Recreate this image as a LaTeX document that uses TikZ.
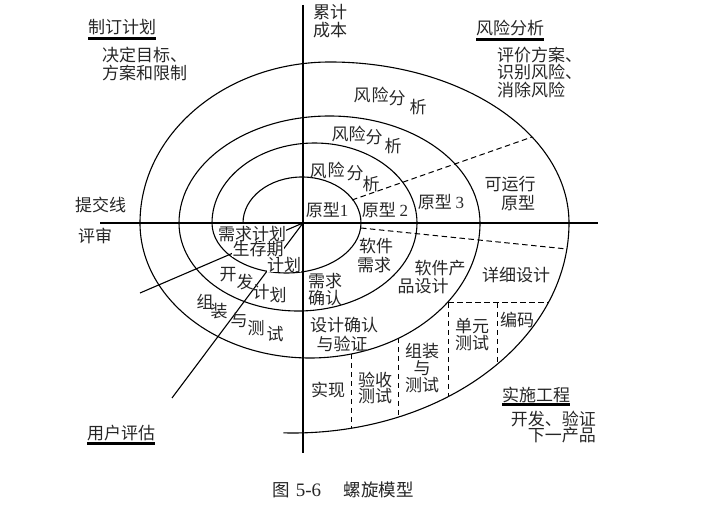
\documentclass[tikz,border=0pt]{standalone}
\usepackage{fontspec}
\setmainfont{Noto Sans CJK SC}
\newfontfamily\serifd{Liberation Serif}
\begin{document}
\begin{tikzpicture}[x=1pt,y=-1pt,
  spiralline/.style={line width=1.1pt},
  axisline/.style={line width=1.4pt},
  dline/.style={line width=1pt,dash pattern=on 5.5pt off 3.5pt},
  lbl/.style={font=\fontsize{17}{17}\selectfont,inner sep=0pt,text=black!85},
  hbar/.style={line width=3pt},
  wlbl/.style={lbl,fill=white,inner sep=0.3pt,text height=13.2pt,text depth=0.3pt}
]
\useasboundingbox (0,0) rectangle (707,510);

% key points
\coordinate (O) at (303,223);
\coordinate (S0) at (243,223);
\coordinate (vtop) at (303,5);
\coordinate (vbot) at (303,453);
\coordinate (hl) at (100,223);
\coordinate (hr) at (598,223);
\coordinate (la) at (140,293);
\coordinate (lb) at (172,398);

% spiral
\draw[spiralline] (S0)
  arc[start angle=180,end angle=360,x radius=59,y radius=46]
  arc[start angle=0,end angle=180,x radius=74.5,y radius=50]
  arc[start angle=180,end angle=360,x radius=102.5,y radius=80]
  arc[start angle=0,end angle=180,x radius=119,y radius=88]
  arc[start angle=180,end angle=360,x radius=150.5,y radius=107]
  arc[start angle=0,end angle=180,x radius=170,y radius=135]
  arc[start angle=180,end angle=270,x radius=190,y radius=161]
  arc[start angle=270,end angle=360,x radius=239,y radius=161]
  arc[start angle=0,end angle=92,x radius=276,y radius=210];

% axes
\draw[axisline] (vtop) -- (vbot);
\draw[axisline] (hl) -- (hr);

% radial lines
\draw[spiralline] (O) -- (la);
\draw[spiralline] (O) -- (lb);

% dashed lines
\coordinate (d1a) at (352,200);
\coordinate (d1b) at (532,137);
\coordinate (d2a) at (361,228);
\coordinate (d2b) at (567,249);
\coordinate (v1a) at (351,354); \coordinate (v1b) at (351,428);
\coordinate (v2a) at (398,338); \coordinate (v2b) at (398,417);
\coordinate (v3a) at (448,303); \coordinate (v3b) at (448,397);
\coordinate (v4a) at (497,303); \coordinate (v4b) at (497,364);
\coordinate (hda) at (548,303);
\draw[dline] (d1a) -- (d1b);
\draw[dline] (d2a) -- (d2b);
\draw[dline] (v1a) -- (v1b);
\draw[dline] (v2a) -- (v2b);
\draw[dline] (v3a) -- (v3b);
\draw[dline] (v4a) -- (v4b);
\draw[dline] (v3a) -- (hda);

% headers
\node[lbl,anchor=west] (h1) at (88,27) {制订计划};
\draw[hbar] ([yshift=-11.5pt]h1.west) -- ([yshift=-11.5pt]h1.east);
\node[lbl,anchor=west] (t1a) at (102,55) {决定目标、};
\node[lbl,anchor=west] (t1b) at (102,73.5) {方案和限制};

\node[lbl,anchor=west] (h2) at (476,28) {风险分析};
\draw[hbar] ([yshift=-11.5pt]h2.west) -- ([yshift=-11.5pt]h2.east);
\node[lbl,anchor=west] (t2a) at (497,55.5) {评价方案、};
\node[lbl,anchor=west] (t2b) at (497,72.5) {识别风险、};
\node[lbl,anchor=west] (t2c) at (497,89.5) {消除风险};

\node[lbl,anchor=west] (h3) at (502,394.5) {实施工程};
\draw[hbar] ([yshift=-10pt]h3.west) -- ([yshift=-10pt]h3.east);
\node[lbl,anchor=east] (t3a) at (596,419.5) {开发、验证};
\node[lbl,anchor=east] (t3b) at (596,435.5) {下一产品};

\node[lbl,anchor=west] (h4) at (87,433) {用户评估};
\draw[hbar] ([yshift=-10.5pt]h4.west) -- ([yshift=-10.5pt]h4.east);

\node[lbl,anchor=west] (c1) at (313,12.5) {累计};
\node[lbl,anchor=west] (c2) at (313,30.5) {成本};

\node[lbl,anchor=west] (s1) at (75,205) {提交线};
\node[lbl,anchor=west] (s2) at (78,236) {评审};

% risk analysis labels (staggered)
\node[lbl] (r4a) at (362,95) {风};
\node[lbl] (r4b) at (380,95) {险};
\node[lbl] (r4c) at (397,98) {分};
\node[lbl] (r4d) at (418,107) {析};

\node[lbl] (r3a) at (340,134) {风};
\node[lbl] (r3b) at (357,134) {险};
\node[lbl] (r3c) at (374,137) {分};
\node[lbl] (r3d) at (393,146) {析};

\node[lbl] (r2a) at (318,171) {风};
\node[lbl] (r2b) at (336,170) {险};
\node[lbl] (r2c) at (355,173) {分};
\node[lbl] (r2d) at (371,184) {析};

% prototypes
\node[lbl] (p1) at (327,210) {原型{\serifd 1}};
\node[lbl] (p2) at (385,210) {原型 {\serifd 2}};
\node[lbl] (p3) at (441,202) {原型 {\serifd 3}};
\node[lbl] (p4a) at (510,184) {可运行};
\node[lbl] (p4b) at (518,203) {原型};

% lower right
\node[lbl] (q1a) at (376,246) {软件};
\node[lbl] (q1b) at (374,265) {需求};
\node[lbl] (q2a) at (440,268) {软件产};
\node[lbl] (q2b) at (423,286) {品设计};
\node[lbl] (q3) at (516,275) {详细设计};
\node[lbl] (q4a) at (325,281) {需求};
\node[lbl] (q4b) at (325,298) {确认};
\node[lbl] (q5a) at (344,325) {设计确认};
\node[lbl] (q5b) at (342,344) {与验证};
\node[lbl] (q6) at (328,390) {实现};
\node[lbl] (q7a) at (375,380) {验收};
\node[lbl] (q7b) at (375,396) {测试};
\node[lbl] (q8a) at (422,351) {组装};
\node[lbl] (q8b) at (422,368) {与};
\node[lbl] (q8c) at (422,385) {测试};
\node[lbl] (q9a) at (472,326) {单元};
\node[lbl] (q9b) at (472,343) {测试};
\node[lbl] (q10) at (517,320) {编码};

% lower left
\node[wlbl] (m1) at (252,234) {需求计划};
\node[wlbl] (m2) at (258,249.5) {生存期};
\node[wlbl] (m3) at (284,265) {计划};
\node[lbl] (k1) at (228,275) {开};
\node[lbl] (k2) at (245,282) {发};
\node[lbl] (k3) at (261,292) {计};
\node[lbl] (k4) at (278,295) {划};
\node[lbl] (g1) at (205,302) {组};
\node[lbl] (g2) at (219,311) {装};
\node[lbl] (g3) at (239,320) {与};
\node[lbl] (g4) at (256,328) {测};
\node[lbl] (g5) at (275,334) {试};

% caption
\node[lbl,anchor=west,font=\fontsize{17.5}{17.5}\selectfont] (cap) at (272,490) {图\hspace{0.35em}{\serifd\fontsize{19}{19}\selectfont 5-6}\hspace{1.3em}螺旋模型};
\end{tikzpicture}
\end{document}
